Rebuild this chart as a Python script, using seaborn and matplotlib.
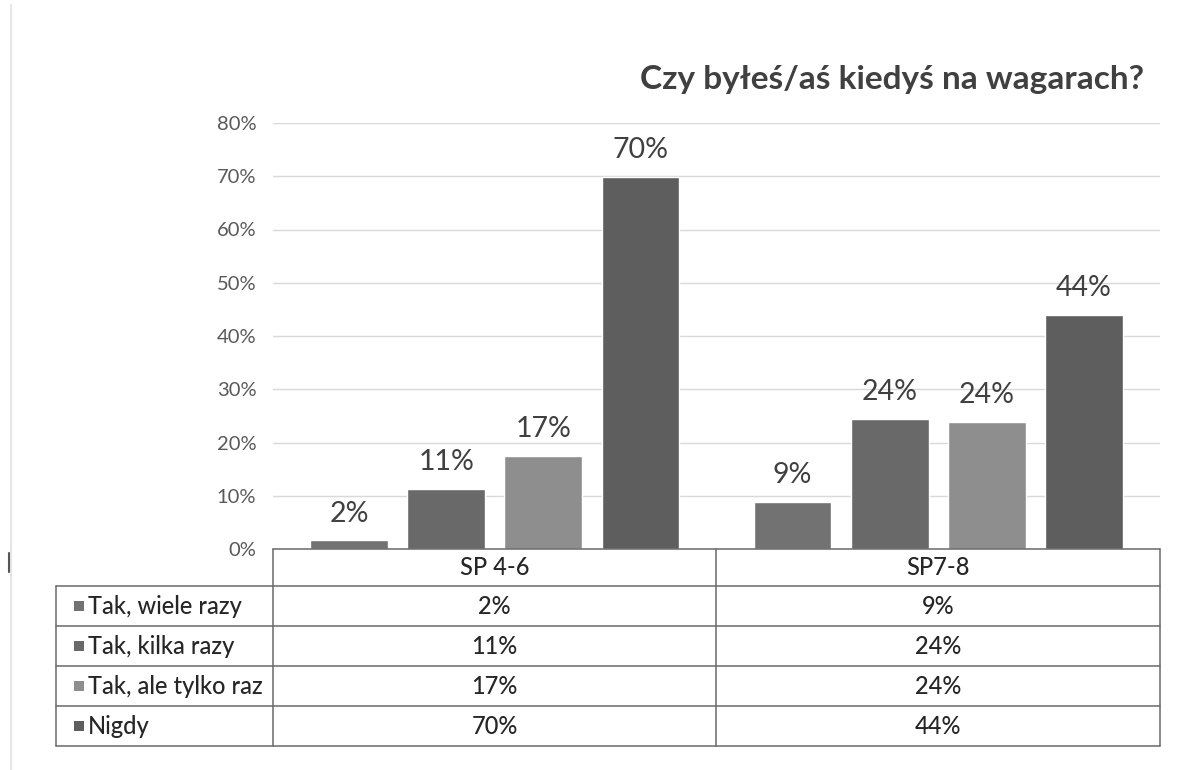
import matplotlib
matplotlib.use("Agg")
import matplotlib.pyplot as plt
import seaborn as sns
import pandas as pd
from matplotlib.lines import Line2D
from matplotlib.patches import Rectangle

# ---- data ----
groups = ["SP 4-6", "SP7-8"]
series = ["Tak, wiele razy", "Tak, kilka razy", "Tak, ale tylko raz", "Nigdy"]
vals_sp46 = [1.6, 11.2, 17.4, 69.9]
vals_sp78 = [8.8, 24.4, 23.8, 43.9]
labels_sp46 = ["2%", "11%", "17%", "70%"]
labels_sp78 = ["9%", "24%", "24%", "44%"]
yticks = [0, 10, 20, 30, 40, 50, 60, 70, 80]
ytick_labels = ["0%", "10%", "20%", "30%", "40%", "50%", "60%", "70%", "80%"]
title = "Czy byłeś/aś kiedyś na wagarach?"
colors = ["#727272", "#696969", "#8e8e8e", "#5e5e5e"]

df = pd.DataFrame({
    "group": [groups[0]] * 4 + [groups[1]] * 4,
    "series": series + series,
    "value": vals_sp46 + vals_sp78,
})

sns.set_theme(style="white")
plt.rcParams["font.family"] = ["Lato", "DejaVu Sans"]

W, H = 1177, 770
fig = plt.figure(figsize=(W / 100, H / 100), dpi=100)

def fx(x):
    return x / W

def fy(y):
    return 1 - y / H

ax_l, ax_r, ax_t, ax_b = 273, 1160, 123, 549
ax = fig.add_axes([fx(ax_l), fy(ax_b), fx(ax_r - ax_l), (ax_b - ax_t) / H])

sns.barplot(data=df, x="group", y="value", hue="series", order=groups,
            hue_order=series, palette=colors, width=0.876, gap=0.2,
            saturation=1, legend=False, ax=ax)

ax.set_ylim(0, 80)
ax.set_xlim(-0.5, 1.5)
ax.set_yticks(yticks)
ax.set_yticklabels(ytick_labels)
ax.yaxis.grid(True, color="#d9d9d9", lw=1)
ax.set_axisbelow(True)
ax.tick_params(axis="y", length=0, pad=12, labelsize=14.5, labelcolor="#595959")
ax.set_xticks([])
ax.set_xlabel("")
ax.set_ylabel("")
for s in ax.spines.values():
    s.set_visible(False)

for i, cont in enumerate(ax.containers):
    ax.bar_label(cont, labels=[labels_sp46[i], labels_sp78[i]], padding=10,
                 fontsize=20.5, color="#404040")

# title
fig.text(fx(892), fy(80), title, ha="center", va="center", fontsize=24,
         fontweight="bold", color="#404040")

# ---- data table ----
lc = "#6a6a6a"
tab_left = 56
rows_y = [586, 626, 666, 706, 746]
col_mid = 716

def hline(y, x0, x1, color=lc, lw=1.1):
    fig.add_artist(Line2D([fx(x0), fx(x1)], [fy(y), fy(y)], color=color, lw=lw))

def vline(x, y0, y1, color=lc, lw=1.1):
    fig.add_artist(Line2D([fx(x), fx(x)], [fy(y0), fy(y1)], color=color, lw=lw))

hline(ax_b, ax_l, ax_r)
for y in rows_y:
    hline(y, tab_left, ax_r)
vline(tab_left, rows_y[0], rows_y[-1])
vline(ax_l, ax_b, rows_y[-1])
vline(col_mid, ax_b, rows_y[-1])
vline(ax_r, ax_b, rows_y[-1])

# scan edge artefacts
vline(11, 5, 770, color="#e6e6e6", lw=1.5)
vline(9, 553, 572, color="#555555", lw=1.5)

tc = "#262626"
fs_tab = 17
fw_tab = "medium"
centers = [(ax_l + col_mid) / 2, (col_mid + ax_r) / 2]
for g, cx in zip(groups, centers):
    fig.text(fx(cx), fy((ax_b + rows_y[0]) / 2), g, ha="center", va="center",
             fontsize=fs_tab, color=tc, fontweight=fw_tab)

for i, s in enumerate(series):
    cy = (rows_y[i] + rows_y[i + 1]) / 2
    fig.add_artist(Rectangle((fx(74), fy(cy + 5)), 10 / W, 10 / H,
                             transform=fig.transFigure, color=colors[i], lw=0))
    fig.text(fx(88), fy(cy), s, ha="left", va="center", fontsize=fs_tab,
             color=tc, fontweight=fw_tab)
    fig.text(fx(centers[0]), fy(cy), labels_sp46[i], ha="center", va="center",
             fontsize=fs_tab, color=tc, fontweight=fw_tab)
    fig.text(fx(centers[1]), fy(cy), labels_sp78[i], ha="center", va="center",
             fontsize=fs_tab, color=tc, fontweight=fw_tab)

fig.savefig("out.png", dpi=100, facecolor="white")
